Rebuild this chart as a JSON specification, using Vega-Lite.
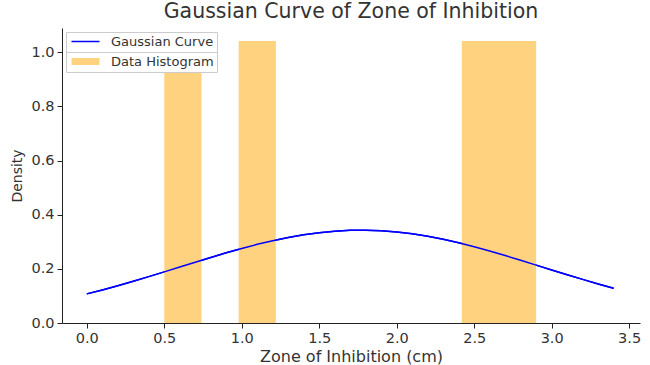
{
  "$schema": "https://vega.github.io/schema/vega-lite/v6.json",
  "width": 578,
  "height": 295,
  "autosize": {"type": "none"},
  "padding": {"left": 62, "top": 28, "right": 10, "bottom": 42},
  "background": "white",
  "title": {"text": "Gaussian Curve of Zone of Inhibition", "font": "DejaVu Sans", "fontSize": 20.5, "fontWeight": "normal", "color": "#333333", "offset": 6},
  "config": {
    "view": {"stroke": null},
    "axis": {"labelFont": "DejaVu Sans", "titleFont": "DejaVu Sans", "labelFontSize": 14.5, "titleFontSize": 16, "titleFontWeight": "normal", "labelColor": "#333333", "titleColor": "#333333", "domainColor": "#222222", "tickColor": "#222222", "tickSize": 5, "grid": false, "labelPadding": 3},
    "legend": {"title": null, "orient": "top-left", "offset": 4, "labelFont": "DejaVu Sans", "labelFontSize": 13, "labelColor": "#333333", "padding": 3, "strokeColor": "#cccccc", "fillColor": "white", "symbolSize": 100, "symbolOffset": 10, "labelOffset": 19, "layout": {"top-left": {"margin": -1, "direction": "vertical"}}}
  },
  "datasets": {
    "curve": [
      {"x": 0.0, "density": 0.1077}, {"x": 0.1, "density": 0.1223}, {"x": 0.2, "density": 0.1379}, {"x": 0.3, "density": 0.1543},
      {"x": 0.4, "density": 0.1714}, {"x": 0.5, "density": 0.1890}, {"x": 0.6, "density": 0.2068}, {"x": 0.7, "density": 0.2246},
      {"x": 0.8, "density": 0.2422}, {"x": 0.9, "density": 0.2593}, {"x": 1.0, "density": 0.2755}, {"x": 1.1, "density": 0.2906},
      {"x": 1.2, "density": 0.3042}, {"x": 1.3, "density": 0.3161}, {"x": 1.4, "density": 0.3261}, {"x": 1.5, "density": 0.3339},
      {"x": 1.6, "density": 0.3394}, {"x": 1.7, "density": 0.3424}, {"x": 1.8, "density": 0.3429}, {"x": 1.9, "density": 0.3409},
      {"x": 2.0, "density": 0.3363}, {"x": 2.1, "density": 0.3295}, {"x": 2.2, "density": 0.3203}, {"x": 2.3, "density": 0.3092},
      {"x": 2.4, "density": 0.2962}, {"x": 2.5, "density": 0.2817}, {"x": 2.6, "density": 0.2659}, {"x": 2.7, "density": 0.2491},
      {"x": 2.8, "density": 0.2317}, {"x": 2.9, "density": 0.2139}, {"x": 3.0, "density": 0.1961}, {"x": 3.1, "density": 0.1784},
      {"x": 3.2, "density": 0.1611}, {"x": 3.3, "density": 0.1444}, {"x": 3.4, "density": 0.1285}
    ],
    "hist": [
      {"x0": 0.50, "x1": 0.74, "density": 1.0417},
      {"x0": 0.98, "x1": 1.22, "density": 1.0417},
      {"x0": 2.42, "x1": 2.66, "density": 1.0417},
      {"x0": 2.66, "x1": 2.90, "density": 1.0417}
    ]
  },
  "layer": [
    {
      "data": {"name": "curve"},
      "transform": [{"calculate": "'Gaussian Curve'", "as": "series"}],
      "mark": {"type": "line", "strokeWidth": 1.5},
      "encoding": {
        "x": {"field": "x", "type": "quantitative", "scale": {"domain": [-0.16, 3.57], "nice": false, "zero": false, "padding": 0}, "axis": {"values": [0, 0.5, 1, 1.5, 2, 2.5, 3, 3.5], "format": ".1f", "title": "Zone of Inhibition (cm)", "titlePadding": 4}},
        "y": {"field": "density", "type": "quantitative", "scale": {"domain": [0, 1.09], "nice": false}, "axis": {"values": [0, 0.2, 0.4, 0.6, 0.8, 1.0], "format": ".1f", "title": "Density", "titlePadding": 6, "titleFontSize": 14}},
        "stroke": {"field": "series", "type": "nominal", "scale": {"domain": ["Gaussian Curve"], "range": ["blue"]},
          "legend": {"symbolType": "M-2.8,0L2.8,0", "symbolStrokeWidth": 1.5}}
      }
    },
    {
      "data": {"name": "hist"},
      "transform": [{"calculate": "'Data Histogram'", "as": "series"}],
      "mark": {"type": "bar", "orient": "vertical"},
      "encoding": {
        "x": {"field": "x0", "type": "quantitative"},
        "x2": {"field": "x1"},
        "y": {"field": "density", "type": "quantitative"},
        "y2": {"datum": 0},
        "fill": {"field": "series", "type": "nominal", "scale": {"domain": ["Data Histogram"], "range": ["#FFD280"]},
          "legend": {"symbolType": "M-2.8,-0.7L2.8,-0.7L2.8,0.7L-2.8,0.7Z", "symbolStrokeWidth": 0}}
      }
    },
    {
      "data": {"name": "curve"},
      "transform": [{"calculate": "'Gaussian Curve'", "as": "series"}],
      "mark": {"type": "line", "strokeWidth": 1.5},
      "encoding": {
        "x": {"field": "x", "type": "quantitative"},
        "y": {"field": "density", "type": "quantitative"},
        "stroke": {"field": "series", "type": "nominal"}
      }
    }
  ]
}
